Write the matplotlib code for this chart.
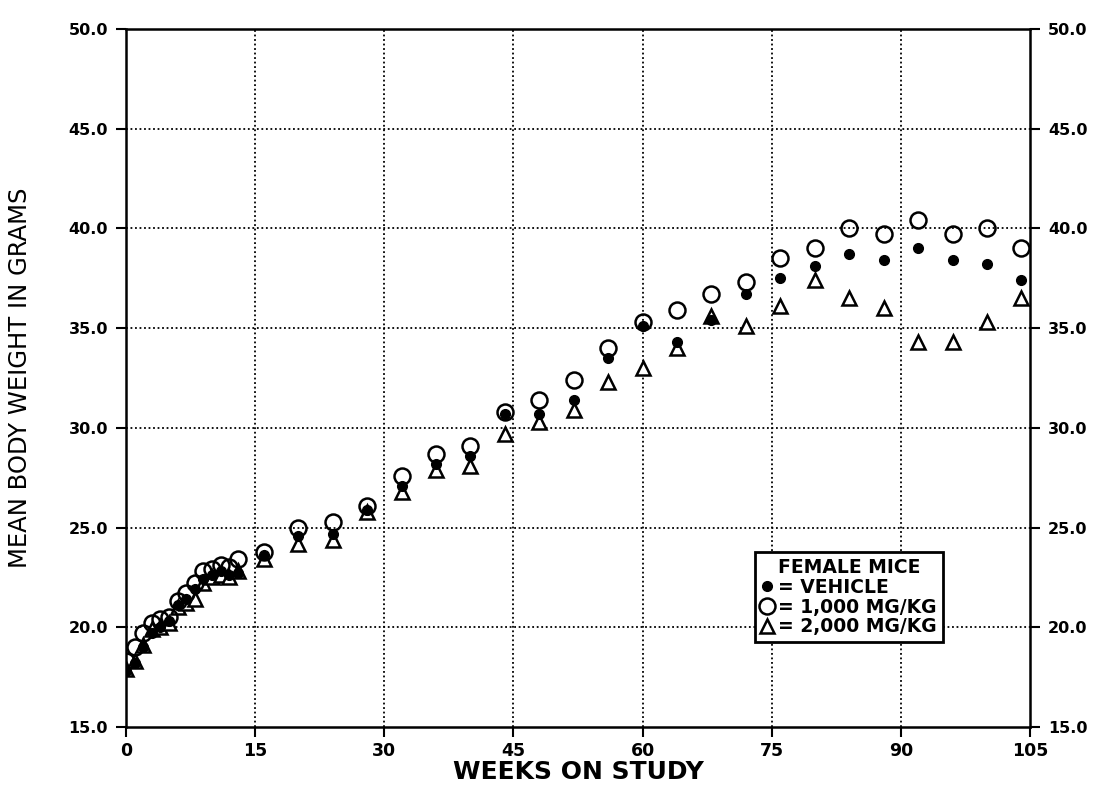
import numpy as np
import matplotlib.pyplot as plt
from matplotlib.ticker import FormatStrFormatter

weeks = [0, 1, 2, 3, 4, 5, 6, 7, 8, 9, 10, 11, 12, 13,
         16, 20, 24, 28, 32, 36, 40, 44, 48, 52, 56, 60, 64, 68, 72,
         76, 80, 84, 88, 92, 96, 100, 104]

vehicle = [17.8, 18.2, 19.0, 19.7, 20.0, 20.3, 21.1, 21.4, 21.9, 22.4, 22.6, 22.8, 22.6, 22.7,
           23.6, 24.6, 24.7, 25.9, 27.1, 28.2, 28.6, 30.7, 30.7, 31.4, 33.5, 35.1, 34.3, 35.4, 36.7,
           37.5, 38.1, 38.7, 38.4, 39.0, 38.4, 38.2, 37.4]

dose_1000 = [18.3, 19.0, 19.7, 20.2, 20.4, 20.5, 21.3, 21.7, 22.2, 22.8, 22.9, 23.1, 23.0, 23.4,
             23.8, 25.0, 25.3, 26.1, 27.6, 28.7, 29.1, 30.8, 31.4, 32.4, 34.0, 35.3, 35.9, 36.7, 37.3,
             38.5, 39.0, 40.0, 39.7, 40.4, 39.7, 40.0, 39.0]

dose_2000 = [17.9, 18.3, 19.1, 19.9, 20.0, 20.2, 21.0, 21.2, 21.4, 22.2, 22.5, 22.6, 22.5, 22.8,
             23.4, 24.2, 24.4, 25.8, 26.8, 27.9, 28.1, 29.7, 30.3, 30.9, 32.3, 33.0, 34.0, 35.6, 35.1,
             36.1, 37.4, 36.5, 36.0, 34.3, 34.3, 35.3, 36.5]

x_ticks = [0, 15, 30, 45, 60, 75, 90, 105]
y_ticks = [15, 20, 25, 30, 35, 40, 45, 50]

fig = plt.figure(figsize=(11.09, 7.85), dpi=100)
ax = fig.add_axes([126 / 1109, 1 - 727 / 785, (1030 - 126) / 1109, (727 - 29) / 785])

l2, = ax.plot(weeks, dose_2000, linestyle='none', marker='^', markersize=10.5,
              markerfacecolor='white', markeredgecolor='black', markeredgewidth=1.8)
l1, = ax.plot(weeks, dose_1000, linestyle='none', marker='o', markersize=11.5,
              markerfacecolor='none', markeredgecolor='black', markeredgewidth=1.8)
l0, = ax.plot(weeks, vehicle, linestyle='none', marker='o', markersize=7,
              markerfacecolor='black', markeredgecolor='black')

ax.set_xlim(0, 105)
ax.set_ylim(15, 50)
ax.set_xticks(x_ticks)
ax.set_yticks(y_ticks)
ax.yaxis.set_major_formatter(FormatStrFormatter('%.1f'))

# dotted grid inside the frame only
for xv in x_ticks[1:-1]:
    ax.axvline(xv, color='black', linestyle=(0, (1, 1.5)), linewidth=1.3, zorder=0)
for yv in y_ticks[1:-1]:
    ax.axhline(yv, color='black', linestyle=(0, (1, 1.5)), linewidth=1.3, zorder=0)

for s in ax.spines.values():
    s.set_linewidth(1.8)

ax.tick_params(axis='both', direction='out', length=7, width=1.5)
ax.tick_params(axis='x', labelsize=12.5, pad=4)
ax.tick_params(axis='y', right=True, labelright=True, labelsize=11.5, pad=6)
for lab in ax.get_xticklabels() + ax.get_yticklabels():
    lab.set_fontweight('bold')
for t in ax.yaxis.get_major_ticks():
    t.label2.set_fontweight('bold')

ax.set_xlabel('WEEKS ON STUDY', fontsize=18, fontweight='bold', labelpad=0)
ax.set_ylabel('MEAN BODY WEIGHT IN GRAMS', fontsize=17.5, labelpad=26)

leg = ax.legend([l0, l1, l2], ['= VEHICLE', '= 1,000 MG/KG', '= 2,000 MG/KG'],
                title='FEMALE MICE', loc='upper left',
                bbox_to_anchor=(755 / 1109, 1 - 552 / 785), bbox_transform=fig.transFigure,
                prop={'weight': 'bold', 'size': 13.5}, handlelength=0.7, handletextpad=0.25,
                borderpad=0.3, labelspacing=0.05, fancybox=False, framealpha=1,
                edgecolor='black', borderaxespad=0)
leg.get_title().set_fontweight('bold')
leg.get_title().set_fontsize(13.5)
leg.get_frame().set_linewidth(2)

fig.savefig('out.png', dpi=100)
